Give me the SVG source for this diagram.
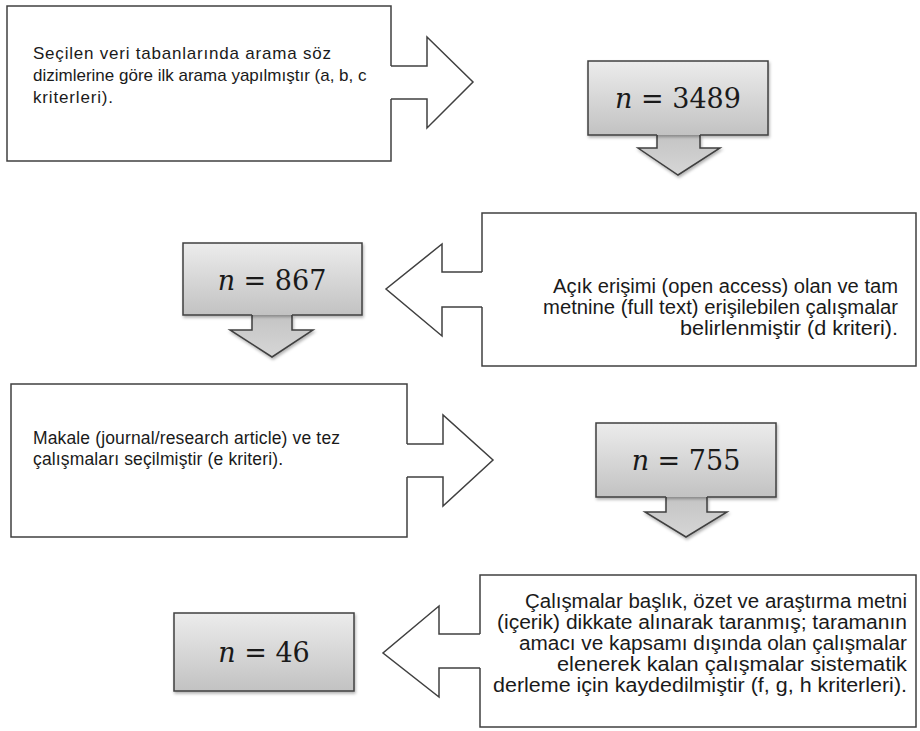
<svg xmlns="http://www.w3.org/2000/svg" width="920" height="731" viewBox="0 0 920 731">
<defs>
<linearGradient id="gBox" x1="0" y1="0" x2="0" y2="1">
<stop offset="0" stop-color="#ececec"/>
<stop offset="1" stop-color="#c2c2c2"/>
</linearGradient>
<linearGradient id="gArrow" x1="0" y1="0" x2="0" y2="1">
<stop offset="0" stop-color="#c4c4c4"/>
<stop offset="1" stop-color="#d6d6d6"/>
</linearGradient>
<filter id="sh" x="-10%" y="-10%" width="130%" height="140%">
<feDropShadow dx="1" dy="2" stdDeviation="1.5" flood-color="#000" flood-opacity="0.3"/>
</filter>
</defs>
<style>
.call{fill:#fff;stroke:#404040;stroke-width:1.5;stroke-linejoin:miter}
.box{fill:url(#gBox);stroke:#404040;stroke-width:1.5;filter:url(#sh)}
.dn{fill:url(#gArrow);stroke:#404040;stroke-width:1.5;filter:url(#sh)}
.arw{fill:#fff;stroke:#404040;stroke-width:1.5;stroke-linejoin:miter}
.t{font-family:"Liberation Sans",Arial,sans-serif;font-size:17px;fill:#1a1a1a}
.t3{font-family:"Liberation Sans",Arial,sans-serif;font-size:17.5px;fill:#1a1a1a}
.tb{font-family:"Liberation Sans",Arial,sans-serif;font-size:19.5px;fill:#1a1a1a}
.r{text-anchor:end}
.m{font-family:"DejaVu Serif","Liberation Serif",serif;font-size:27px;fill:#1a1a1a;text-anchor:middle}
.i{font-style:italic}
</style>
<rect width="920" height="731" fill="#fff"/>

<g id="connectors">
<path class="dn" d="M657,135 V148 H638 L678,175 L720,148 H700 V135"/>
<path class="dn" d="M252,315 V330 H230 L272,357 L313,330 H292 V315"/>
<path class="dn" d="M666,497 V512 H645 L686,537 L727,512 H707 V497"/>
<path class="arw" d="M391,66 H427 V37 L473,82 L427,128 V99 H391"/>
<path class="arw" d="M482,272 H442 V244 L386,289 L442,336 V307 H482"/>
<path class="arw" d="M407,444 H443 V415 L493,460 L443,506 V477 H407"/>
<path class="arw" d="M480,634 H439 V606 L383,653 L439,697 V668 H480"/>
</g>

<g id="step1">
<path class="call" d="M391,66 V6 H7 V161 H391 V99"/>
<text class="t" x="33" y="59" textLength="298" lengthAdjust="spacing">Seçilen veri tabanlarında arama söz</text>
<text class="t" x="33" y="81">dizimlerine göre ilk arama yapılmıştır (a, b, c</text>
<text class="t" x="33" y="103" textLength="80" lengthAdjust="spacing">kriterleri).</text>
</g>

<g id="n3489">
<path class="box" d="M657,135 H588 V61 H768 V135 H700"/>
<text class="m" x="678" y="108"><tspan class="i">n</tspan> = 3489</text>
</g>

<g id="step2">
<path class="call" d="M482,272 V213 H916 V366 H482 V307"/>
<text class="tb r" x="898" y="293" textLength="345" lengthAdjust="spacingAndGlyphs">Açık erişimi (open access) olan ve tam</text>
<text class="tb r" x="898" y="314" textLength="355" lengthAdjust="spacingAndGlyphs">metnine (full text) erişilebilen çalışmalar</text>
<text class="tb r" x="898" y="335" textLength="218" lengthAdjust="spacingAndGlyphs">belirlenmiştir (d kriteri).</text>
</g>

<g id="n867">
<path class="box" d="M252,315 H183 V243 H362 V315 H292"/>
<text class="m" x="272" y="290"><tspan class="i">n</tspan> = 867</text>
</g>

<g id="step3">
<path class="call" d="M407,444 V384 H11 V537 H407 V477"/>
<text class="t3" x="33" y="444" textLength="307" lengthAdjust="spacing">Makale (journal/research article) ve tez</text>
<text class="t3" x="33" y="465" textLength="250" lengthAdjust="spacing">çalışmaları seçilmiştir (e kriteri).</text>
</g>

<g id="n755">
<path class="box" d="M666,497 H596 V423 H776 V497 H707"/>
<text class="m" x="686" y="470"><tspan class="i">n</tspan> = 755</text>
</g>

<g id="step4">
<path class="call" d="M480,634 V575 H916 V727 H480 V668"/>
<text class="tb r" x="907" y="608" textLength="382" lengthAdjust="spacingAndGlyphs">Çalışmalar başlık, özet ve araştırma metni</text>
<text class="tb r" x="907" y="629" textLength="410" lengthAdjust="spacingAndGlyphs">(içerik) dikkate alınarak taranmış; taramanın</text>
<text class="tb r" x="907" y="650" textLength="388" lengthAdjust="spacingAndGlyphs">amacı ve kapsamı dışında olan çalışmalar</text>
<text class="tb r" x="907" y="671" textLength="350" lengthAdjust="spacingAndGlyphs">elenerek kalan çalışmalar sistematik</text>
<text class="tb r" x="907" y="692" textLength="414" lengthAdjust="spacingAndGlyphs">derleme için kaydedilmiştir (f, g, h kriterleri).</text>
</g>

<g id="n46">
<rect class="box" x="174" y="613" width="180" height="78"/>
<text class="m" x="264" y="662"><tspan class="i">n</tspan> = 46</text>
</g>
</svg>
